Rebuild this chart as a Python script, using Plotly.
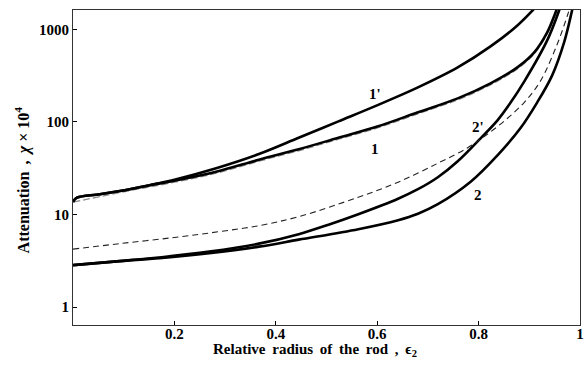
import numpy as np
import plotly.graph_objects as go

# ---- data ----
x_c1p = [0.0, 0.00784, 0.05294, 0.11176, 0.15098, 0.2, 0.28235, 0.36667, 0.4451, 0.52353, 0.60196, 0.68039, 0.75882, 0.82353, 0.87647, 0.91569]
y_c1p = [13.75, 15.19, 16.57, 18.76, 20.73, 23.76, 31.62, 45.0, 67.48, 101.6, 153.2, 236.6, 388.9, 655.5, 1104.0, 1815.0]

x_c1 = [0.0, 0.00784, 0.05294, 0.11176, 0.15098, 0.2, 0.28235, 0.36667, 0.4451, 0.52353, 0.60196, 0.68039, 0.75882, 0.82353, 0.87647, 0.9098, 0.93529, 0.95098, 0.96078]
y_c1 = [13.75, 15.19, 16.57, 18.76, 20.73, 23.18, 28.99, 39.06, 50.7, 67.48, 89.78, 127.2, 180.0, 261.4, 388.9, 564.7, 927.9, 1488.0, 2107.0]

# thin grey long-dash companion of curve 1
x_c1d = [0.0, 0.11176, 0.2, 0.28235, 0.36667, 0.4451, 0.52353, 0.60196, 0.68039, 0.75882, 0.82353, 0.87647, 0.9098, 0.93529, 0.95098, 0.96078]
y_c1d = [13.6, 18.1, 22.3, 27.9, 37.6, 48.8, 65.0, 86.5, 122.5, 173.3, 251.7, 374.5, 543.8, 893.6, 1433.0, 2030.0]

x_c2p = [0.0, 0.09216, 0.17059, 0.26863, 0.36667, 0.4451, 0.50392, 0.56275, 0.64118, 0.68039, 0.71961, 0.75882, 0.80392, 0.83725, 0.86078, 0.8902, 0.93529, 0.95882, 0.96667]
y_c2p = [2.84, 3.136, 3.438, 3.972, 4.844, 6.134, 7.768, 10.08, 14.82, 18.76, 25.28, 37.63, 66.64, 104.2, 155.1, 274.6, 760.8, 1603.0, 2160.0]

x_c2 = [0.0, 0.09216, 0.17059, 0.26863, 0.36667, 0.4451, 0.56275, 0.64118, 0.68039, 0.71961, 0.78431, 0.83725, 0.88235, 0.91569, 0.9451, 0.96863, 0.98431, 0.9902]
y_c2 = [2.84, 3.136, 3.38, 3.825, 4.497, 5.351, 6.947, 8.688, 10.21, 12.93, 22.61, 43.68, 85.43, 163.0, 318.8, 723.8, 1603.0, 2214.0]

x_cd = [0.0, 0.09216, 0.2, 0.28824, 0.36667, 0.4451, 0.56275, 0.64118, 0.71961, 0.77843, 0.81176, 0.85098, 0.8902, 0.92157, 0.9549, 0.97647, 0.98235]
y_cd = [4.226, 4.844, 5.651, 6.527, 7.576, 9.475, 15.38, 22.33, 35.8, 52.63, 70.03, 102.9, 163.0, 274.6, 688.7, 1488.0, 1907.0]

x_ticks = [0.2, 0.4, 0.6, 0.8, 1.0]
x_ticklabels = ["0.2", "0.4", "0.6", "0.8", "1"]
y_ticks = [1, 10, 100, 1000]
y_ticklabels = ["1", "10", "100", "1000"]

curve_labels = ["1'", "1", "2'", "2"]
label_x = [0.5955, 0.5955, 0.798, 0.798]
label_y = [202.0, 51.6, 88.2, 16.2]

FONT = "Liberation Serif"
SP = "\u2009"

fig = go.Figure()
solid = dict(color="black", width=2.6)
fig.add_trace(go.Scatter(x=x_c1d, y=y_c1d, mode="lines",
                         line=dict(color="#8a8a8a", width=1.2, dash="7px,3px", shape="spline", smoothing=1.0),
                         hoverinfo="skip"))
for xs, ys in [(x_c1p, y_c1p), (x_c1, y_c1), (x_c2p, y_c2p), (x_c2, y_c2)]:
    fig.add_trace(go.Scatter(x=xs, y=ys, mode="lines", line=dict(shape="spline", smoothing=1.0, **solid)))
fig.add_trace(go.Scatter(x=x_cd, y=y_cd, mode="lines",
                         line=dict(shape="spline", smoothing=1.0, color="#222222", width=1.1, dash="6px,4px")))

for t, lx, ly in zip(curve_labels, label_x, label_y):
    fig.add_annotation(x=lx, y=np.log10(ly), xref="x", yref="y", text="<b>%s</b>" % t,
                       showarrow=False, font=dict(family=FONT, size=15, color="black"))

fig.add_annotation(x=-0.1, y=0.46, xref="paper", yref="paper", textangle=-90,
                   xanchor="center", yanchor="middle",
                   text="<b>Attenuation" + SP + " ," + SP + " <i>χ</i> × 10<sup>4</sup></b>", showarrow=False,
                   font=dict(family=FONT, size=16, color="black"))
fig.add_annotation(x=0.4775, y=-0.078, xref="paper", yref="paper", xanchor="center", yanchor="middle",
                   text="<b>" + (" " + SP).join(["Relative", "radius", "of", "the", "rod", ","]) + SP + " ϵ<sub>2</sub></b>",
                   showarrow=False, font=dict(family=FONT, size=15, color="black"))

fig.update_layout(
    width=588, height=368,
    margin=dict(l=73, r=4, t=10, b=43),
    paper_bgcolor="white", plot_bgcolor="white",
    showlegend=False,
    font=dict(family=FONT, size=15, color="black"),
)
fig.update_xaxes(range=[0, 1], tickvals=x_ticks, ticktext=["<b>%s</b>" % s for s in x_ticklabels],
                 ticks="inside", ticklen=4, tickcolor="black", showgrid=False, zeroline=False,
                 showline=True, linecolor="#333333", linewidth=1, mirror=True, ticklabelstandoff=-5,
                 tickfont=dict(family=FONT, size=15, color="black"))
fig.update_yaxes(type="log", range=[-0.194, 3.21], tickvals=y_ticks, ticktext=["<b>%s</b>" % s for s in y_ticklabels],
                 ticks="inside", ticklen=4, tickcolor="black", showgrid=False, zeroline=False,
                 showline=True, linecolor="#333333", linewidth=1, mirror=True,
                 tickfont=dict(family=FONT, size=15, color="black"))

fig.write_html("out.html")
